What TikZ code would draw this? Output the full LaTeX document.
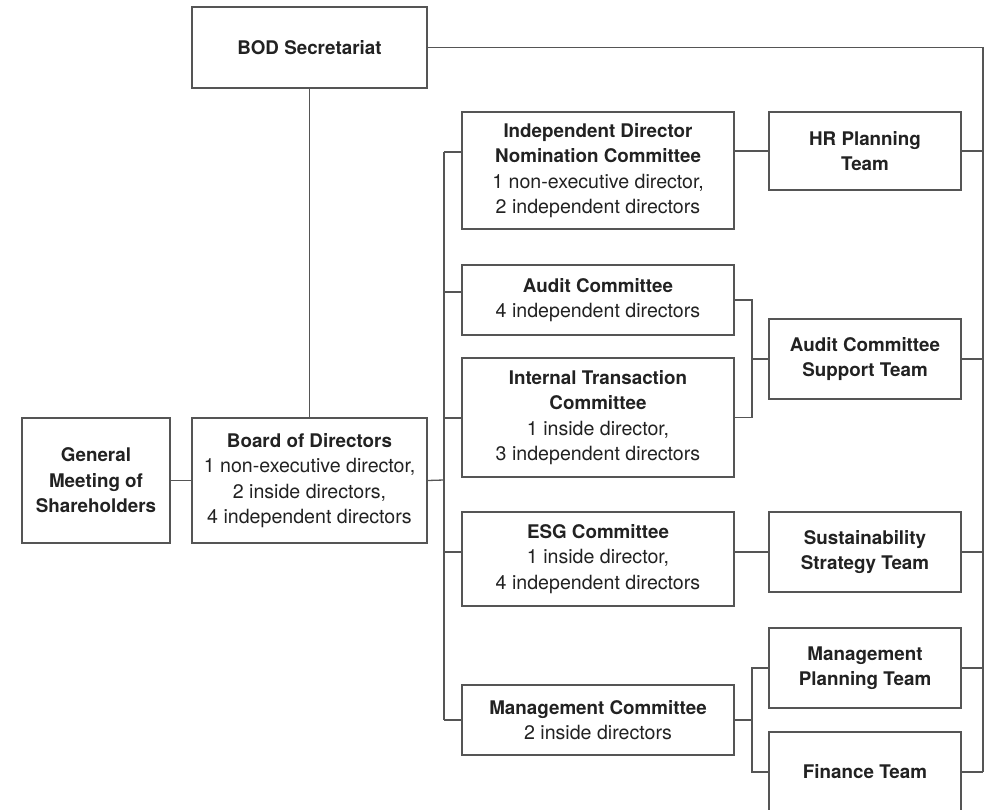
\documentclass[tikz,border=0pt]{standalone}
\usepackage{fontspec}
\setmainfont{TeX Gyre Heros}
\definecolor{ink}{HTML}{222222}
\definecolor{wire}{HTML}{555555}
% bold heading line inside a box
\newcommand{\hd}[1]{{\fontsize{18.8}{25.5}\selectfont\bfseries #1}}
\begin{document}
\begin{tikzpicture}[x=1pt,y=-1pt,
  box/.style={draw=wire, line width=1.3pt, rectangle, inner sep=0pt,
    align=center, text=ink, font=\fontsize{19.6}{25.5}\selectfont},
  wide/.style={box, minimum width=272pt},
  team/.style={box, minimum width=192pt},
  link/.style={draw=wire, line width=1.3pt}]
\useasboundingbox (0,0) rectangle (987,810);

% governing bodies
\node[box, minimum width=235pt, minimum height=81pt] (sec) at (309.5,47.5) {\hd{BOD Secretariat}};
\node[box, minimum width=148pt, minimum height=125pt] (gm) at (96,480.5) {\hd{General}\\\hd{Meeting of}\\\hd{Shareholders}};
\node[box, minimum width=235pt, minimum height=125pt] (bod) at (309.5,480.5) {\hd{Board of Directors}\\1 non-executive director,\\2 inside directors,\\4 independent directors};

% committees
\node[wide, minimum height=117pt] (ind) at (598,170.5) {\hd{Independent Director}\\\hd{Nomination Committee}\\1 non-executive director,\\2 independent directors};
\node[wide, minimum height=70pt] (aud) at (598,300) {\hd{Audit Committee}\\4 independent directors};
\node[wide, minimum height=119pt] (itc) at (598,417.5) {\hd{Internal Transaction}\\\hd{Committee}\\1 inside director,\\3 independent directors};
\node[wide, minimum height=94pt] (esg) at (598,559) {\hd{ESG Committee}\\1 inside director,\\4 independent directors};
\node[wide, minimum height=70pt] (mgc) at (598,720) {\hd{Management Committee}\\2 inside directors};

% support teams
\node[team, minimum height=78pt] (hr) at (865,151) {\hd{HR Planning}\\\hd{Team}};
\node[team, minimum height=80pt] (acs) at (865,359) {\hd{Audit Committee}\\\hd{Support Team}};
\node[team, minimum height=80pt] (sus) at (865,552) {\hd{Sustainability}\\\hd{Strategy Team}};
\node[team, minimum height=80pt] (mpt) at (865,668) {\hd{Management}\\\hd{Planning Team}};
\node[team, minimum height=80pt] (fin) at (865,772) {\hd{Finance Team}};

% bus lines
\coordinate (busTop) at (444,152);
\coordinate (busAud) at (444,292);
\coordinate (busItc) at (444,418);
\coordinate (busBod) at (444,480);
\coordinate (busEsg) at (444,552);
\coordinate (busMgc) at (444,720);
\coordinate (auBus) at (752,300);
\coordinate (mgBus) at (752,720);
\coordinate (rTop) at (983,47.5);
\coordinate (rBot) at (983,772);

% secretariat and board
\draw[link] (sec.south) -- (bod.north);
\draw[link] (gm.east) -- (bod.west);
\draw[link] (bod.east) -- (busBod);
\draw[link] (busTop) -- (busMgc);

% committee branches
\draw[link] (busTop) -- (busTop -| ind.west);
\draw[link] (busAud) -- (busAud -| aud.west);
\draw[link] (busItc) -- (busItc -| itc.west);
\draw[link] (busEsg) -- (busEsg -| esg.west);
\draw[link] (busMgc) -- (mgc.west);

% committee to team links
\draw[link] (hr.west -| ind.east) -- (hr.west);
\draw[link] (aud.east) -| (auBus) |- (itc.east);
\draw[link] (auBus |- acs.west) -- (acs.west);
\draw[link] (esg.east |- sus.west) -- (sus.west);
\draw[link] (mgc.east) -- (mgBus);
\draw[link] (mpt.west) -| (mgBus) |- (fin.west);

% secretariat line down the right side
\draw[link] (sec.east) -- (rTop) -- (rBot);
\draw[link] (hr.east) -- (hr.east -| rTop);
\draw[link] (acs.east) -- (acs.east -| rTop);
\draw[link] (sus.east) -- (sus.east -| rTop);
\draw[link] (mpt.east) -- (mpt.east -| rTop);
\draw[link] (fin.east) -- (rBot);
\end{tikzpicture}
\end{document}
